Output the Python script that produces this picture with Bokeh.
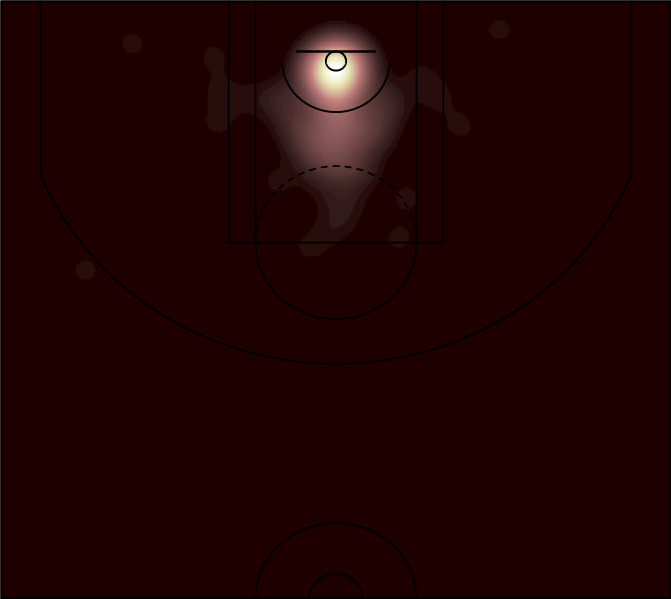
import numpy as np
from bokeh.plotting import figure
from bokeh.models import Range1d, LinearColorMapper
from bokeh.embed import file_html
from bokeh.resources import INLINE

# ---- shot locations (court units, hoop at origin, baseline at y=-47.5) and shot counts ----
rim_x = [0, 3, -4, 6, -7, 1, -2, 9, -10, 4, -5, 0, 2, -3, 12, -12, 7, -8, 0, 5,
         -6, 15, -15, 3, -1, 8, -9, 0, 11, -11, 2, -4, 6, -2, 0, 14, -14, 4, -6, 1]
rim_y = [0, 4, 6, -3, 2, 10, 14, 8, 5, 18, 20, -5, 25, 12, 3, 10, 22, 15, 30, -2,
         28, 12, 18, 35, 7, 0, -1, 20, 24, 30, 40, 3, 9, 16, 5, 20, 6, 1, 11, 45]
rim_n = [7, 6, 6, 4, 4, 6, 4, 4, 4, 4, 4, 4, 3, 4, 3, 3, 3, 3, 3, 4,
         3, 2, 2, 3, 6, 4, 4, 3, 2, 2, 3, 6, 4, 4, 7, 2, 2, 4, 3, 3]
paint_x = [-30, -15, 0, 15, 30, -20, -5, 10, 25, -12, 3, 15, -5, 8, -38, 36]
paint_y = [48, 52, 50, 50, 46, 64, 66, 62, 60, 80, 78, 84, 98, 104, 30, 32]
paint_n = [3, 4, 6, 4, 3, 4, 6, 4, 3, 3, 4, 3, 1, 1, 3, 3]
other_x = [-152, 122, -91, -86, -88, -62, 63, 76, 93, -43, -2, 47, 53, -19, -187, 5]
other_y = [-14, -25, -4, 24, 48, 30, 12, 28, 51, 94, 130, 139, 107, 146, 164, 118]
other_n = [1] * len(other_x)

shot_x = np.array(rim_x + paint_x + other_x, dtype=float)
shot_y = np.array(rim_y + paint_y + other_y, dtype=float)
shot_n = np.array(rim_n + paint_n + other_n, dtype=float)

# ---- court geometry ----
X0, X1 = -250.0, 250.0
Y0, Y1 = -47.5, 422.5
BW = 11.0

# ---- KDE on a grid (in single-shot units) ----
nx, ny = 500, 470
gx = np.linspace(X0, X1, nx)
gy = np.linspace(Y0, Y1, ny)
GX, GY = np.meshgrid(gx, gy)
dens = np.zeros_like(GX)
for sx, sy, sn in zip(shot_x, shot_y, shot_n):
    dens += sn * np.exp(-(((GX - sx) ** 2) + ((GY - sy) ** 2)) / (2 * BW ** 2))
step = 0.8
dens = np.floor(dens / step) * step
peak = dens.max()

# ---- matplotlib/Matlab "pink" colormap ----
m = 64
i = np.arange(m)
gray = i / (m - 1)
hr = np.clip((i + 1) / 24, 0, 1)
hg = np.clip((i + 1 - 24) / 24, 0, 1)
hb = np.clip((i + 1 - 48) / 16, 0, 1)
pr = np.sqrt((2 * gray + hr) / 3)
pg = np.sqrt((2 * gray + hg) / 3)
pb = np.sqrt((2 * gray + hb) / 3)
t = np.linspace(0, 1, 256)
s = np.linspace(0, 1, m)
R = np.interp(t, s, pr); G = np.interp(t, s, pg); B = np.interp(t, s, pb)
palette = ["#%02x%02x%02x" % (int(round(r * 255)), int(round(g * 255)), int(round(b * 255)))
           for r, g, b in zip(R, G, B)]

p = figure(width=671, height=599, output_backend="svg", toolbar_location=None,
           x_range=Range1d(X0, X1), y_range=Range1d(Y1, Y0), min_border=0)
p.axis.visible = False
p.grid.visible = False
p.outline_line_color = None
p.background_fill_color = palette[0]
p.border_fill_color = palette[0]

mapper = LinearColorMapper(palette=palette, low=0, high=peak)
p.image(image=[dens], x=X0, y=Y0, dw=X1 - X0, dh=Y1 - Y0, color_mapper=mapper)

LC = "black"
LW = 1.8

def arc_pts(cx, cy, r, a0, a1, n=200):
    a = np.radians(np.linspace(a0, a1, n))
    return cx + r * np.cos(a), cy + r * np.sin(a)

# hoop
hx, hy = arc_pts(0, 0, 7.5, 0, 360)
p.line(hx, hy, line_color=LC, line_width=2)
# backboard
p.line([-30, 30], [-7.5, -7.5], line_color=LC, line_width=2.5)
# paint
p.line([-80, -80, 80, 80], [Y0, 142.5, 142.5, Y0], line_color=LC, line_width=LW)
p.line([-60, -60], [Y0, 142.5], line_color=LC, line_width=LW)
p.line([60, 60], [Y0, 142.5], line_color=LC, line_width=LW)
# free throw circle
fx, fy = arc_pts(0, 142.5, 60, 0, 180)
p.line(fx, fy, line_color=LC, line_width=LW)
fx, fy = arc_pts(0, 142.5, 60, 180, 360)
p.line(fx, fy, line_color=LC, line_width=LW, line_dash="7 5")
# restricted area
rx, ry = arc_pts(0, 0, 40, 0, 180)
p.line(rx, ry, line_color=LC, line_width=2)
# three point line
p.line([-220, -220], [Y0, 92.5], line_color=LC, line_width=LW)
p.line([220, 220], [Y0, 92.5], line_color=LC, line_width=LW)
tx, ty = arc_pts(0, 0, 237.5, 22, 158)
p.line(tx, ty, line_color=LC, line_width=LW)
# center court
cx, cy = arc_pts(0, 422.5, 60, 180, 360)
p.line(cx, cy, line_color=LC, line_width=LW)
cx, cy = arc_pts(0, 422.5, 20, 180, 360)
p.line(cx, cy, line_color=LC, line_width=LW)
# outer lines
p.line([X0, X0, X1, X1, X0], [Y0, Y1, Y1, Y0, Y0], line_color=LC, line_width=4)

open("out.html", "w").write(file_html(p, INLINE))
